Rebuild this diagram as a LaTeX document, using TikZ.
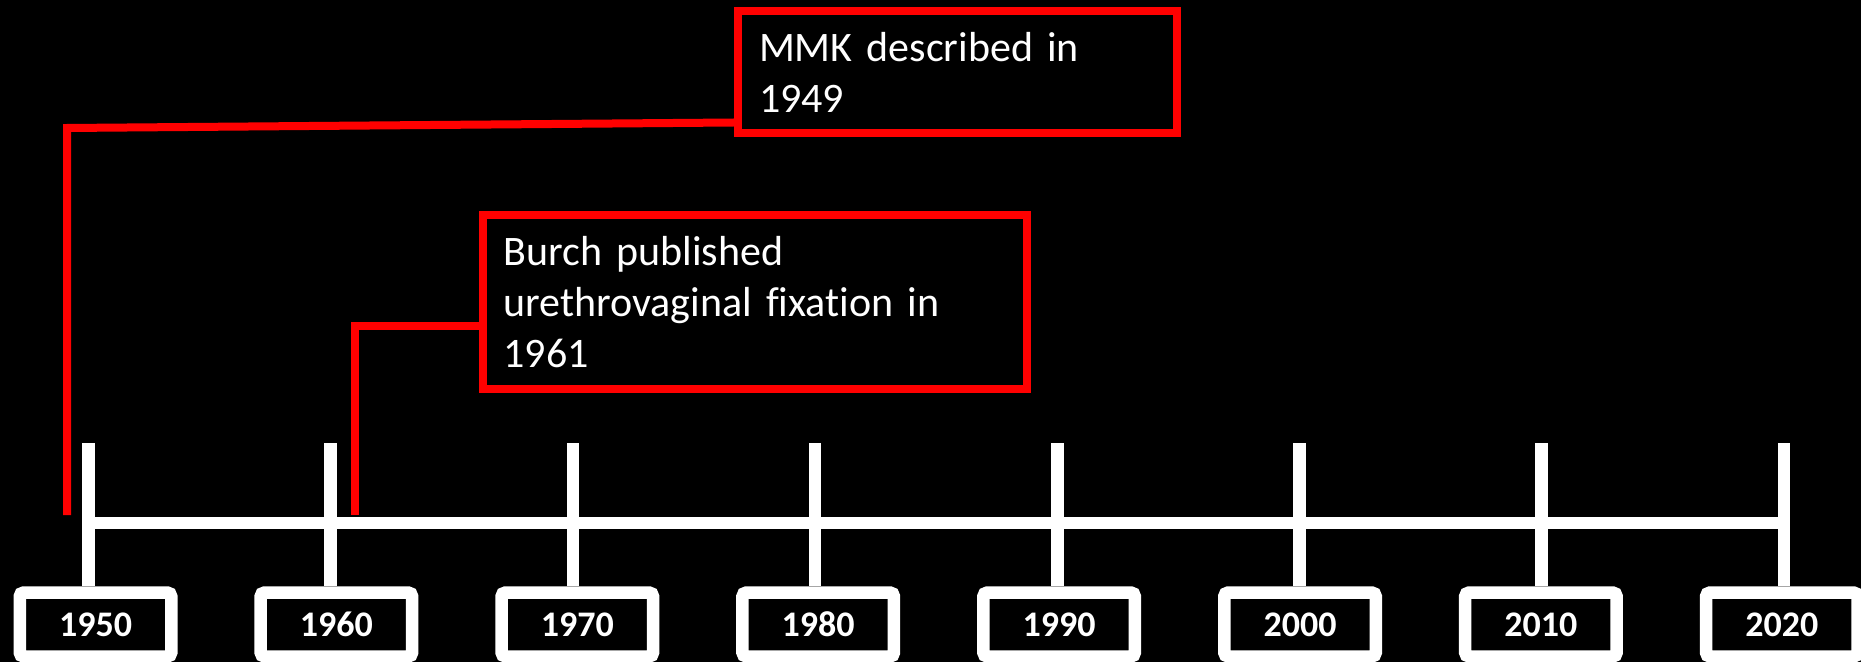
\documentclass[tikz,border=0pt]{standalone}
\usepackage{fontspec}
\setmainfont{Carlito}[Ligatures=NoCommon]
\begin{document}
\begin{tikzpicture}[x=0.5pt,y=-0.5pt,
  redline/.style={draw=red,line width=4pt},
  whiteline/.style={draw=white,line width=6.25pt},
  callout/.style={draw=red,line width=4pt,fill=black,text=white,align=left,
    font=\fontsize{21pt}{25.5pt}\selectfont,inner ysep=0pt},
  yearbox/.style={draw=white,line width=6.25pt,fill=black,text=white,rounded corners=2pt,
    minimum width=75.75pt,minimum height=32pt,inner sep=0pt,
    font=\fontsize{18pt}{18pt}\selectfont\bfseries}]
\useasboundingbox[fill=black] (0,0) rectangle (1861,662);

% year boxes and ticks
\foreach \i/\yr in {0/1950,1/1960,2/1970,3/1980,4/1990,5/2000,6/2010,7/2020} {
  \pgfmathsetmacro\tx{88.5+242.2*\i}
  \pgfmathsetmacro\bx{95.5+240.9*\i}
  \node[yearbox] (y\yr) at (\bx,624.5) {\yr};
  \coordinate (t\yr) at (\tx,443);
  \draw[whiteline] (t\yr) -- (t\yr |- y\yr.north);
}
\draw[whiteline] (t1950 |- 0,523) -- (t2020 |- 0,523);

% callouts
\node[callout,minimum width=219.5pt,minimum height=61pt,text width=198.5pt,inner xsep=10.5pt]
  (mmk) at (957.5,72) {MMK described in\\1949};
\node[callout,minimum width=272pt,minimum height=87pt,text width=251.5pt,inner xsep=10.25pt]
  (burch) at (755,302) {Burch published\\urethrovaginal fixation in\\1961};

% connectors
\coordinate (a1) at (67,515);
\coordinate (a2) at (355,515);
\draw[redline] (a1) -- (a1 |- 0,128) -- (mmk.west |- 0,122.5);
\draw[redline] (a2) -- (a2 |- 0,326) -- (burch.west |- 0,326);
\end{tikzpicture}
\end{document}
